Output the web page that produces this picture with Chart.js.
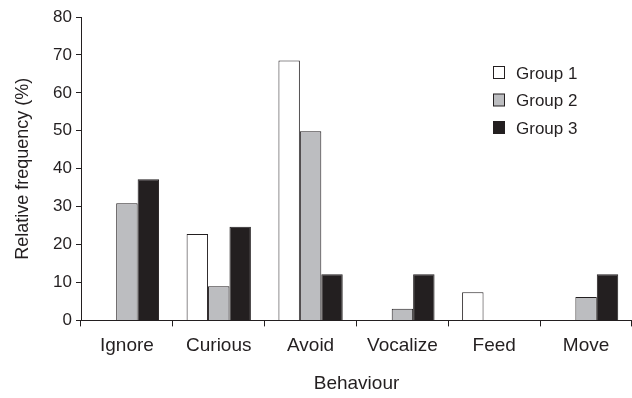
<!DOCTYPE html>
<html>
<head>
<meta charset="utf-8">
<script src="https://cdn.jsdelivr.net/npm/chart.js@4.4.0/dist/chart.umd.min.js"></script>
<style>
  html, body { margin: 0; padding: 0; background: #fff; }
  #wrap { width: 632px; height: 398px; }
</style>
</head>
<body>
<div id="wrap"><canvas id="barChart" width="632" height="398"></canvas></div>
<script>
// Behaviour categories and relative frequency (%) per group
const behaviours = ['Ignore', 'Curious', 'Avoid', 'Vocalize', 'Feed', 'Move'];
const group1 = [0, 22.8, 68.5, 0, 7.4, 0];
const group2 = [30.9, 9, 49.9, 3.1, 0, 6.2];
const group3 = [37.2, 24.7, 12.2, 12.2, 0, 12.2];
const groupNames = ['Group 1', 'Group 2', 'Group 3'];
const yTicks = [0, 10, 20, 30, 40, 50, 60, 70, 80];

const ink = '#231f20';
const font = 'Liberation Sans, Arial, sans-serif';

// Legend drawn inside the plot area, top right
const insideLegend = {
    id: 'insideLegend',
    afterDraw(chart) {
        const ctx = chart.ctx;
        ctx.save();
        ctx.font = '17px ' + font;
        ctx.textBaseline = 'middle';
        chart.data.datasets.forEach((ds, i) => {
            const y = 73 + i * 27.5;
            ctx.fillStyle = ds.backgroundColor;
            ctx.strokeStyle = ink;
            ctx.lineWidth = 1;
            ctx.fillRect(493.5, y - 6.5, 11, 12);
            ctx.strokeRect(493.5, y - 6.5, 11, 12);
            ctx.fillStyle = ink;
            ctx.fillText(ds.label, 516, y + 1);
        });
        ctx.restore();
    }
};

const colours = ['#ffffff', '#bcbdc0', ink];
const series = [group1, group2, group3];

new Chart(document.getElementById('barChart'), {
    type: 'bar',
    data: {
        labels: behaviours,
        datasets: series.map((values, i) => ({
            label: groupNames[i],
            data: values,
            backgroundColor: colours[i],
            borderColor: ink,
            borderWidth: 1,
            borderSkipped: 'bottom',
            categoryPercentage: 0.7,
            barPercentage: 1
        }))
    },
    options: {
        responsive: false,
        animation: false,
        layout: { padding: { top: 17, right: 0, bottom: 3, left: 4 } },
        plugins: {
            legend: { display: false },
            tooltip: { enabled: false }
        },
        scales: {
            x: {
                grid: {
                    display: true,
                    drawOnChartArea: false,
                    drawTicks: true,
                    tickLength: 6,
                    color: ink,
                    offset: true
                },
                border: { display: true, color: ink, width: 1 },
                ticks: {
                    color: ink,
                    font: { family: font, size: 19 },
                    padding: 8,
                    maxRotation: 0
                },
                title: {
                    display: true,
                    text: 'Behaviour',
                    color: ink,
                    font: { family: font, size: 19 },
                    padding: { top: 7, bottom: 0 }
                }
            },
            y: {
                min: 0,
                max: 80,
                afterBuildTicks: axis => {
                    axis.ticks = yTicks.map(v => ({ value: v }));
                },
                afterFit: axis => { axis.width = 77; },
                grid: {
                    display: true,
                    drawOnChartArea: false,
                    drawTicks: true,
                    tickLength: 5,
                    color: ink
                },
                border: { display: true, color: ink, width: 1 },
                ticks: {
                    color: ink,
                    font: { family: font, size: 17 },
                    padding: 4
                },
                title: {
                    display: true,
                    text: 'Relative frequency (%)',
                    color: ink,
                    font: { family: font, size: 18 },
                    padding: { top: 8, bottom: 6 }
                }
            }
        }
    },
    plugins: [insideLegend]
});
</script>
</body>
</html>
